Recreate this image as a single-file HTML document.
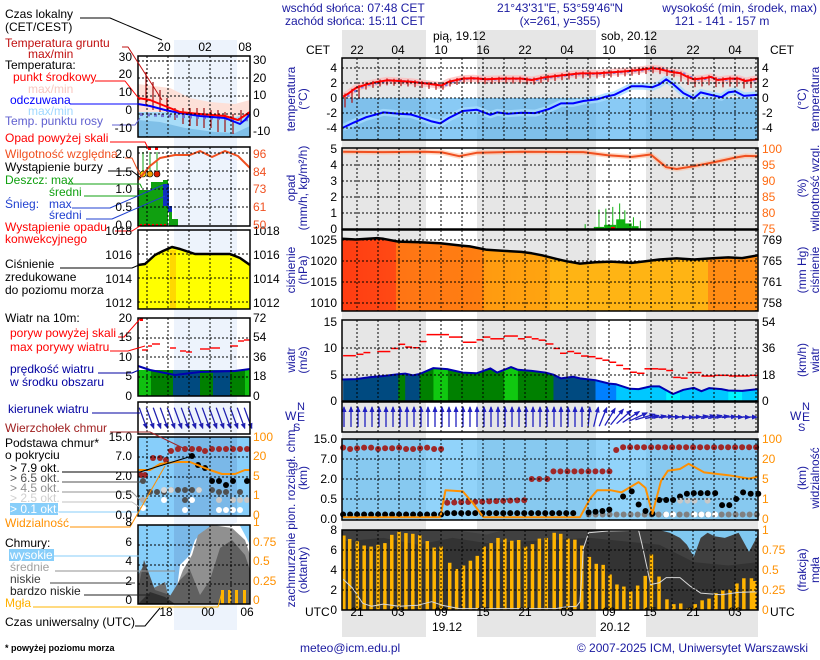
<!DOCTYPE html>
<html><head><meta charset="utf-8">
<style>
html,body{margin:0;padding:0;background:#fff;}
svg{display:block;font-family:"Liberation Sans",sans-serif;font-size:12px;}
</style></head><body>
<svg id="s" width="820" height="660" viewBox="0 0 820 660" xmlns="http://www.w3.org/2000/svg">
<defs>
<linearGradient id="pg" x1="342" x2="758" y1="0" y2="0" gradientUnits="userSpaceOnUse">
<stop offset="0" stop-color="#ff3c12"/><stop offset="0.13" stop-color="#ff4a14"/>
<stop offset="0.13" stop-color="#ff7414"/><stop offset="0.34" stop-color="#ff8012"/>
<stop offset="0.34" stop-color="#ff9a10"/><stop offset="0.5" stop-color="#ffa510"/>
<stop offset="0.5" stop-color="#ffb414"/><stop offset="0.88" stop-color="#ffb414"/>
<stop offset="0.88" stop-color="#ff8c14"/><stop offset="1" stop-color="#ff8c14"/>
</linearGradient>
</defs>
<rect x="342" y="30" width="84" height="607" fill="#e6e6e6"/>
<rect x="477" y="30" width="119" height="607" fill="#e6e6e6"/>
<rect x="646" y="30" width="112" height="607" fill="#e6e6e6"/>
<rect x="174" y="40" width="63" height="590" fill="#edf3fc"/>
<g id="g"></g>

<g fill="#1a1aa0">
<text x="282" y="12">wschód słońca: 07:48 CET</text>
<text x="285" y="25">zachód słońca: 15:11 CET</text>
<text x="560" y="12" text-anchor="middle">21°43'31"E, 53°59'46"N</text>
<text x="560" y="25" text-anchor="middle">(x=261,  y=355)</text>
<text x="817" y="12" text-anchor="end">wysokość (min, środek, max)</text>
<text x="722" y="25" text-anchor="middle">121 - 141 - 157 m</text>
<text x="300" y="652">meteo@icm.edu.pl</text>
<text x="808" y="652" text-anchor="end">© 2007-2025 ICM, Uniwersytet Warszawski</text>
</g>
<g fill="#000">
<text x="433" y="40">pią, 19.12</text>
<text x="601" y="40">sob, 20.12</text>
<text x="306" y="54">CET</text><text x="770" y="54">CET</text>
<text x="357" y="54" text-anchor="middle">22</text><text x="398" y="54" text-anchor="middle">04</text>
<text x="441" y="54" text-anchor="middle">10</text><text x="483" y="54" text-anchor="middle">16</text>
<text x="525" y="54" text-anchor="middle">22</text><text x="567" y="54" text-anchor="middle">04</text>
<text x="609" y="54" text-anchor="middle">10</text><text x="650" y="54" text-anchor="middle">16</text>
<text x="693" y="54" text-anchor="middle">22</text><text x="735" y="54" text-anchor="middle">04</text>
<text x="305" y="616">UTC</text><text x="770" y="616">UTC</text>
<text x="357" y="616" text-anchor="middle">21</text><text x="398" y="616" text-anchor="middle">03</text>
<text x="441" y="616" text-anchor="middle">09</text><text x="483" y="616" text-anchor="middle">15</text>
<text x="525" y="616" text-anchor="middle">21</text><text x="567" y="616" text-anchor="middle">03</text>
<text x="609" y="616" text-anchor="middle">09</text><text x="650" y="616" text-anchor="middle">15</text>
<text x="693" y="616" text-anchor="middle">21</text><text x="735" y="616" text-anchor="middle">03</text>
<text x="447" y="631" text-anchor="middle">19.12</text>
<text x="615" y="631" text-anchor="middle">20.12</text>
</g>
<g text-anchor="end" fill="#000">
<text x="337" y="72">4</text><text x="337" y="87">2</text><text x="337" y="102">0</text><text x="337" y="117">-2</text><text x="337" y="132">-4</text>
<text x="337" y="153">5</text><text x="337" y="169">4</text><text x="337" y="185">3</text><text x="337" y="201">2</text><text x="337" y="217">1</text><text x="337" y="233">0</text>
<text x="337" y="244">1025</text><text x="337" y="265">1020</text><text x="337" y="286">1015</text><text x="337" y="307">1010</text>
<text x="337" y="326">15</text><text x="337" y="352">10</text><text x="337" y="379">5</text><text x="337" y="405">0</text>
<text x="337" y="443">15.0</text><text x="337" y="463">7.0</text><text x="337" y="483">2.0</text><text x="337" y="503">0.5</text><text x="337" y="523">0.0</text>
<text x="337" y="534">8</text><text x="337" y="554">6</text><text x="337" y="574">4</text><text x="337" y="594">2</text><text x="337" y="614">0</text>
</g>
<g fill="#000">
<text x="762" y="72">4</text><text x="762" y="87">2</text><text x="762" y="102">0</text><text x="762" y="117">-2</text><text x="762" y="132">-4</text>
<text x="762" y="244">769</text><text x="762" y="265">765</text><text x="762" y="286">761</text><text x="762" y="307">758</text>
<text x="762" y="326">54</text><text x="762" y="352">36</text><text x="762" y="379">18</text><text x="762" y="405">0</text>
</g>
<g fill="#ff6a10">
<text x="762" y="153">100</text><text x="762" y="169">95</text><text x="762" y="185">90</text><text x="762" y="201">85</text><text x="762" y="217">80</text><text x="762" y="233">75</text>
</g>
<g fill="#ff9000">
<text x="762" y="443">100</text><text x="762" y="463">20</text><text x="762" y="483">5</text><text x="762" y="503">1</text><text x="762" y="523">0</text>
<text x="762" y="534">1</text><text x="762" y="554">0.75</text><text x="762" y="574">0.5</text><text x="762" y="594">0.25</text><text x="762" y="614">0</text>
</g>
<g fill="#1a1aa0" text-anchor="middle">
<text transform="translate(295,99) rotate(-90)">temperatura</text>
<text transform="translate(307,99) rotate(-90)">(°C)</text>
<text transform="translate(295,188) rotate(-90)">opad</text>
<text transform="translate(307,188) rotate(-90)">(mm/h, kg/m²/h)</text>
<text transform="translate(295,270) rotate(-90)">ciśnienie</text>
<text transform="translate(307,270) rotate(-90)">(hPa)</text>
<text transform="translate(295,360) rotate(-90)">wiatr</text>
<text transform="translate(307,360) rotate(-90)">(m/s)</text>
<text transform="translate(295,478) rotate(-90)">pion. rozciągł. chm.</text>
<text transform="translate(307,478) rotate(-90)">(km)</text>
<text transform="translate(295,570) rotate(-90)">zachmurzenie</text>
<text transform="translate(307,570) rotate(-90)">(oktanty)</text>
<text transform="translate(806,99) rotate(-90)">(°C)</text>
<text transform="translate(819,99) rotate(-90)">temperatura</text>
<text transform="translate(806,188) rotate(-90)">(%)</text>
<text transform="translate(819,188) rotate(-90)">wilgotność wzgl.</text>
<text transform="translate(806,270) rotate(-90)">(mm Hg)</text>
<text transform="translate(819,270) rotate(-90)">ciśnienie</text>
<text transform="translate(806,360) rotate(-90)">(km/h)</text>
<text transform="translate(819,360) rotate(-90)">wiatr</text>
<text transform="translate(806,478) rotate(-90)">(km)</text>
<text transform="translate(819,478) rotate(-90)">widzialność</text>
<text transform="translate(806,570) rotate(-90)">(frakcja)</text>
<text transform="translate(819,570) rotate(-90)">mgła</text>
</g>
<g fill="#1a1aa0">
<text x="285" y="420">W</text><text x="297" y="410" font-size="11">N</text><text x="297" y="421">E</text><text x="293" y="431" font-size="11">S</text>
<text x="790" y="420">W</text><text x="802" y="410" font-size="11">N</text><text x="802" y="421">E</text><text x="798" y="431" font-size="11">S</text>
</g>

<g>
<text x="5" y="18">Czas lokalny</text><text x="5" y="31">(CET/CEST)</text>
<text x="5" y="47" fill="#c01010">Temperatura gruntu</text><text x="28" y="58" fill="#c01010">max/min</text>
<text x="5" y="69">Temperatura:</text>
<text x="13" y="81" fill="#ff0000">punkt środkowy</text>
<text x="28" y="93" fill="#f8c8c0">max/min</text>
<text x="10" y="104" fill="#0000ff">odczuwana</text>
<text x="28" y="115" fill="#a0d8ff">max/min</text>
<text x="5" y="125" fill="#6060d0">Temp. punktu rosy</text>
<text x="5" y="142" fill="#ff0000">Opad powyżej skali</text>
<text x="5" y="158" fill="#f05020">Wilgotność względna</text>
<text x="5" y="171">Wystąpienie burzy</text>
<text x="5" y="184" fill="#10a010">Deszcz: max</text>
<text x="49" y="196" fill="#10a010">średni</text>
<text x="5" y="208" fill="#2040d0">Śnieg:</text><text x="49" y="208" fill="#2040d0">max</text>
<text x="49" y="219" fill="#2040d0">średni</text>
<text x="5" y="231" fill="#ff0000">Wystąpienie opadu</text>
<text x="5" y="243" fill="#ff0000">konwekcyjnego</text>
<text x="5" y="268">Ciśnienie</text><text x="5" y="281">zredukowane</text><text x="5" y="294">do poziomu morza</text>
<text x="5" y="322">Wiatr na 10m:</text>
<text x="10" y="337" fill="#ff0000">poryw powyżej skali</text>
<text x="10" y="351" fill="#ff0000">max porywy wiatru</text>
<text x="10" y="373" fill="#0000a0">prędkość wiatru</text>
<text x="10" y="386" fill="#0000a0">w środku obszaru</text>
<text x="8" y="413" fill="#0000a0">kierunek wiatru</text>
<text x="5" y="432" fill="#a02020">Wierzchołek chmur</text>
<text x="5" y="447">Podstawa chmur*</text><text x="5" y="459">o pokryciu</text>
<text x="10" y="472">&gt; 7.9 okt.</text>
<text x="10" y="482" fill="#505050">&gt; 6.5 okt.</text>
<text x="10" y="492" fill="#909090">&gt; 4.5 okt.</text>
<text x="10" y="502" fill="#d0d0d0">&gt; 2.5 okt.</text>
<rect x="10" y="503" width="48" height="12" fill="#87cefa"/>
<text x="10" y="513" fill="#fff">&gt; 0.1 okt.</text>
<text x="5" y="527" fill="#ff9000">Widzialność</text>
<text x="5" y="547">Chmury:</text>
<rect x="9" y="549" width="45" height="12" fill="#87cefa"/>
<text x="10" y="559" fill="#fff">wysokie</text>
<text x="10" y="571" fill="#a0a0a0">średnie</text>
<text x="10" y="583" fill="#404040">niskie</text>
<text x="10" y="595" fill="#202020">bardzo niskie</text>
<text x="5" y="607" fill="#ffb000">Mgła</text>
<text x="5" y="626">Czas uniwersalny (UTC)</text>
<text x="5" y="651" font-size="9" font-weight="bold">* powyżej poziomu morza</text>
</g>
<g text-anchor="end">
<text x="132" y="61">30</text><text x="132" y="78">20</text><text x="132" y="96">10</text><text x="132" y="114">0</text><text x="132" y="132">-10</text>
<text x="132" y="158">2.0</text><text x="132" y="176">1.5</text><text x="132" y="193">1.0</text><text x="132" y="211">0.5</text><text x="132" y="229">0.0</text>
<text x="132" y="235">1018</text><text x="132" y="259">1016</text><text x="132" y="283">1014</text><text x="132" y="307">1012</text>
<text x="132" y="322">20</text><text x="132" y="341">15</text><text x="132" y="361">10</text><text x="132" y="380">5</text><text x="132" y="400">0</text>
<text x="132" y="441">15.0</text><text x="132" y="460">7.0</text><text x="132" y="480">2.0</text><text x="132" y="499">0.5</text><text x="132" y="519">0.0</text>
<text x="132" y="526">8</text><text x="132" y="546">6</text><text x="132" y="565">4</text><text x="132" y="585">2</text><text x="132" y="604">0</text>
</g>
<g>
<text x="253" y="64">30</text><text x="253" y="82">20</text><text x="253" y="99">10</text><text x="253" y="117">0</text><text x="253" y="135">-10</text>
<text x="253" y="235">1018</text><text x="253" y="259">1016</text><text x="253" y="283">1014</text><text x="253" y="307">1012</text>
<text x="253" y="322">72</text><text x="253" y="341">54</text><text x="253" y="361">36</text><text x="253" y="380">18</text><text x="253" y="400">0</text>
</g>
<g fill="#f05020"><text x="253" y="158">96</text><text x="253" y="176">84</text><text x="253" y="193">73</text><text x="253" y="211">61</text><text x="253" y="229">50</text></g>
<g fill="#ff9000">
<text x="253" y="441">100</text><text x="253" y="460">20</text><text x="253" y="480">5</text><text x="253" y="499">1</text><text x="253" y="519">0</text>
<text x="253" y="526">1</text><text x="253" y="546">0.75</text><text x="253" y="565">0.5</text><text x="253" y="585">0.25</text><text x="253" y="604">0</text>
</g>
<g text-anchor="middle">
<text x="164" y="51">20</text><text x="205" y="51">02</text><text x="245" y="51">08</text>
<text x="166" y="616">18</text><text x="208" y="616">00</text><text x="247" y="616">06</text>
</g>
</svg>
<script>
var NS="http://www.w3.org/2000/svg",G=document.getElementById("g");
function el(t,a){var e=document.createElementNS(NS,t);for(var k in a)e.setAttribute(k,a[k]);G.appendChild(e);return e;}
function ps(p){return p.map(function(q){return q[0].toFixed(1)+","+q[1].toFixed(1)}).join(" ");}
function Z(ox,oy){return function(a){return a.map(function(q){return [ox+q[0]/2.9,oy+q[1]/2.9]})}}
var z2=Z(280,0),z4=Z(280,225),z3=Z(280,400);
function line(p,c,w,extra){var a={points:ps(p),fill:"none",stroke:c,"stroke-width":w,"stroke-linejoin":"round"};for(var k in extra)a[k]=extra[k];return el("polyline",a);}
function area(p,bottom,fill){var q=p.slice();q.push([p[p.length-1][0],bottom]);q.unshift([p[0][0],bottom]);return el("polygon",{points:ps(q),fill:fill});}
function rect(x,y,w,h,f,ex){var a={x:x,y:y,width:w,height:h,fill:f};for(var k in ex)a[k]=ex[k];return el("rect",a);}
function grid(x0,x1,y0,y1,xs,ys){xs.forEach(function(x){if(x>x0+1&&x<x1-1)el("line",{x1:x,x2:x,y1:y0,y2:y1,stroke:"#000","stroke-dasharray":"2,2","stroke-width":1});});
 ys.forEach(function(y){el("line",{x1:x0,x2:x1,y1:y,y2:y,stroke:"#000","stroke-dasharray":"2,2","stroke-width":1});});}
function box(x0,x1,y0,y1){rect(x0,y0,x1-x0,y1-y0,"none",{stroke:"#000","stroke-width":1.5});}
var MX0=342,MX1=758,GX=[];for(var k=0;k<20;k++)GX.push(357+21*k);
var LX0=138,LX1=250,LGX=[147,168,189,210,231];

rect(MX0,98,MX1-MX0,42,"#3aa6ee",{"fill-opacity":0.6});
var red=z2([[183,280],[200,270],[220,255],[250,245],[280,238],[310,233],[345,235],[380,237],[405,240],[430,243],[468,248],[490,237],[530,228],[560,227],[600,230],[640,228],[700,228],[730,232],[770,224],[820,218],[870,213],[920,213],[960,210],[1000,207],[1040,203],[1080,198],[1100,200],[1130,208],[1160,212],[1180,222],[1200,230],[1230,227],[1250,223],[1270,232],[1300,228],[1330,228],[1350,235],[1387,228]]);
var blue=z2([[183,370],[215,355],[250,340],[300,326],[345,330],[380,332],[405,340],[440,352],[465,358],[490,342],[530,322],[570,318],[610,333],[630,326],[660,330],[700,327],[740,328],[780,316],[815,300],[850,300],[880,293],[920,288],[945,280],[970,275],[990,265],[1020,250],[1050,250],[1080,253],[1100,245],[1120,230],[1140,244],[1170,270],[1200,285],[1220,268],[1245,274],[1280,282],[1300,268],[1320,265],[1345,278],[1387,275]]);
line(red,"#ffb8b8",7,{"stroke-opacity":0.7});
line(blue,"#a8dcff",7,{"stroke-opacity":0.8});
function yAt(p,x){for(var i=1;i<p.length;i++){if(p[i][0]>=x){var a=p[i-1],b=p[i];return a[1]+(b[1]-a[1])*(x-a[0])/(b[0]-a[0]||1);}}return p[p.length-1][1];}
for(var x=345;x<757;x+=7){var y=yAt(red,x);var L=(x<360?12:(x>680?8:5));el("line",{x1:x,x2:x,y1:y-2,y2:y+L,stroke:"#b01010","stroke-width":1.2});
 rect(x+2,y-1,2.5,2.5,"#8080e0");}
line(red,"#ff0000",2);
line(blue,"#0000ff",2);
grid(MX0,MX1,58,140,GX,[68,83,98,113,128]);box(MX0,MX1,58,140);

[[885,650],[925,608],[945,605],[965,600],[985,590],[1000,610],[1025,630],[1045,640]].forEach(function(q){var p=z2([q,[q[0],665]]);el("line",{x1:p[0][0],x2:p[0][0],y1:p[0][1],y2:229,stroke:"#10b010","stroke-width":1});});
[[910,940,658],[940,975,652],[975,1000,636],[1000,1020,648],[1020,1040,656]].forEach(function(r){var a=z2([[r[0],r[2]],[r[1],665]]);rect(a[0][0],a[0][1],a[1][0]-a[0][0],229-a[0][1],"#10b010");});
rect(611,227,4,2,"#ff0000");
var rh=z2([[183,440],[300,441],[420,440],[470,442],[520,453],[570,443],[700,440],[880,441],[950,450],[1020,455],[1075,448],[1120,485],[1150,490],[1200,482],[1260,470],[1320,457],[1350,452],[1387,453]]);
line(rh,"#ffc0a0",5,{"stroke-opacity":0.6});line(rh,"#f05020",2);
grid(MX0,MX1,148,229,GX,[165,181,197,213]);box(MX0,MX1,148,229);

var pr=z4([[183,40],[220,42],[282,38],[300,40],[343,48],[405,50],[465,53],[530,60],[550,62],[600,72],[650,75],[700,78],[730,82],[760,88],[800,98],[830,105],[870,112],[915,108],[960,106],[1020,110],[1060,105],[1100,100],[1150,97],[1200,100],[1260,96],[1300,94],[1340,96],[1387,88]]);
pr[0][0]=MX0;pr[pr.length-1][0]=MX1;
area(pr,311,"url(#pg)");line(pr,"#000",2.5);
grid(MX0,MX1,230,311,GX,[240,261,282,303]);box(MX0,MX1,230,311);

var gu=[[183,220,379],[222,242,375],[242,262,370],[282,320,367],[322,342,358],[343,363,346],[363,383,354],[385,405,356],[405,425,338],[425,490,318],[490,528,325],[530,570,340],[570,590,333],[590,610,325],[610,650,330],[650,690,322],[690,710,330],[710,730,325],[730,750,330],[750,770,334],[770,793,345],[793,812,358],[812,830,372],[833,853,367],[853,873,372],[873,895,380],[895,915,382],[915,935,387],[935,955,392],[955,975,398],[975,995,407],[995,1015,417],[1015,1035,427],[1035,1057,430],[1057,1097,417],[1097,1120,418],[1120,1140,422],[1140,1162,442],[1162,1182,444],[1182,1222,428],[1222,1262,438],[1262,1302,436],[1302,1362,438],[1362,1387,436]];
gu.forEach(function(g){var p=z4([[g[0],g[2]],[g[1],g[2]]]);el("line",{x1:p[0][0],x2:p[1][0],y1:p[0][1],y2:p[1][1],stroke:"#ff0000","stroke-width":1.5});});
var ws=z4([[183,448],[220,447],[262,441],[300,438],[343,433],[363,431],[385,436],[405,432],[445,415],[485,418],[530,428],[570,430],[610,416],[630,428],[670,412],[690,420],[730,423],[770,428],[793,434],[815,445],[850,440],[870,445],[915,450],[955,460],[975,462],[1015,475],[1040,476],[1075,468],[1100,468],[1140,490],[1170,478],[1200,472],[1222,482],[1245,473],[1280,476],[1300,480],[1340,481],[1387,476]]);
ws[0][0]=MX0;ws[ws.length-1][0]=MX1;
var cp=document.createElementNS(NS,"clipPath");cp.setAttribute("id","wc");document.querySelector("defs").appendChild(cp);
var q=ws.slice();q.push([MX1,401]);q.push([MX0,401]);var pg=document.createElementNS(NS,"polygon");pg.setAttribute("points",ps(q));cp.appendChild(pg);
var wg=el("g",{"clip-path":"url(#wc)"});
[[183,343,"#004a80"],[343,363,"#008000"],[363,405,"#004a80"],[405,445,"#008000"],[445,487,"#10c810"],[487,650,"#008000"],[650,690,"#10c810"],[690,793,"#008000"],[793,915,"#004a80"],[915,975,"#0080ff"],[975,1120,"#00c8ff"],[1120,1160,"#00f4ff"],[1160,1300,"#00c8ff"],[1300,1340,"#00f4ff"],[1340,1390,"#00c8ff"]].forEach(function(s){var a=280+s[0]/2.9,b=280+s[1]/2.9;var r=document.createElementNS(NS,"rect");r.setAttribute("x",a);r.setAttribute("y",320);r.setAttribute("width",b-a+0.5);r.setAttribute("height",82);r.setAttribute("fill",s[2]);wg.appendChild(r);});
line(ws,"#0000b0",2);
grid(MX0,MX1,320,401,GX,[348,375]);box(MX0,MX1,320,401);

function arrow(cx,cy,ang,len,col){var r=ang*Math.PI/180;var dx=Math.sin(r),dy=-Math.cos(r);
 var tx=cx+dx*len/2,ty=cy+dy*len/2,bx=cx-dx*len/2,by=cy-dy*len/2;
 el("line",{x1:bx,y1:by,x2:tx,y2:ty,stroke:col,"stroke-width":1.3});
 var px=-dy,py=dx;el("polygon",{points:ps([[tx+dx*1,ty+dy*1],[tx-dx*5+px*2.5,ty-dy*5+py*2.5],[tx-dx*5-px*2.5,ty-dy*5-py*2.5]]),fill:col});}
for(var x=344;x<757;x+=7){var a;if(x<585)a=0;else if(x<650)a=(x-585)/65*80;else a=85+8*Math.sin(x);
 var L=x<650?20:14;arrow(x,417,a,L,"#2020c0");}
grid(MX0,MX1,402,432,GX,[]);box(MX0,MX1,402,432);

rect(MX0,439,MX1-MX0,81,"#48b6f6",{"fill-opacity":0.6});
function dot(x,y,c){el("circle",{cx:x,cy:y,r:3,fill:c});}
function dz(X,Y,c){var p=z3([[X,Y]])[0];dot(p[0],p[1],c);}
for(var X=183;X<=470;X+=20.3){dz(X,138+((X|0)%3)*2,"#a02828");dz(X,332,"#000");}
for(var X=485;X<=715;X+=20.3){dz(X,298-(X-485)/30,"#a02828");}
[730,752,775].forEach(function(X){dz(X,229,"#a02828");});
for(var X=793;X<=960;X+=20.3)dz(X,207,"#a02828");
dz(975,145,"#a02828");for(var X=995;X<=1387;X+=20.3)dz(X,137,"#a02828");
for(var X=485;X<=870;X+=20.3)dz(X,328,"#000");
for(var X=895;X<=1387;X+=20.3)dz(X,332,"#808080");
[[895,326],[915,324],[935,322],[955,318],[995,280],[1020,265],[1040,303],[1060,322],[1080,330],[1100,290],[1120,290],[1140,290],[1160,280],[1180,272],[1200,270],[1220,270],[1240,270],[1262,270],[1282,305],[1303,305],[1323,287],[1343,268],[1365,272],[1387,272]].forEach(function(d){dz(d[0],d[1],"#000");});
[1160,1182,1202,1240].forEach(function(X){dz(X,292,"#c8c8c8");});
[1120,1140,1202,1222,1242,1262].forEach(function(X){dz(X,332,"#fff");});
var vis=z3([[183,340],[465,340],[480,262],[530,265],[560,300],[590,340],[870,340],[900,285],[920,262],[960,262],[990,268],[1040,238],[1060,255],[1080,330],[1105,235],[1125,205],[1160,200],[1185,185],[1230,210],[1300,218],[1360,228],[1387,222]]);
line(vis,"#ff9000",2);
grid(MX0,MX1,439,520,GX,[459,479,499]);box(MX0,MX1,439,520);

rect(MX0,530,MX1-MX0,80,"#333");
el("polygon",{points:ps(z3([[183,377],[1387,377],[1387,470],[1300,480],[1200,470],[1100,420],[1000,410],[900,400],[800,405],[700,410],[600,415],[500,400],[400,420],[300,400],[183,410]])),fill:"#404040"});
el("polygon",{points:ps(z3([[1100,377],[1387,377],[1387,390],[1360,440],[1330,385],[1290,400],[1260,395],[1240,385],[1220,400],[1200,455],[1180,420],[1160,400],[1130,385]])),fill:"#80c8f0"});
el("polygon",{points:ps(z3([[500,377],[650,377],[600,390],[560,385]])),fill:"#4a4a4a"});
var fb=[[183,393],[200,403],[222,410],[242,422],[262,425],[282,420],[302,415],[322,391],[343,382],[363,386],[383,388],[403,392],[425,409],[445,428],[465,425],[490,472],[510,490],[530,480],[550,466],[570,452],[590,425],[610,415],[630,400],[650,402],[670,408],[690,406],[710,425],[730,418],[750,402],[770,400],[793,385],[812,388],[833,402],[853,405],[873,422],[895,455],[915,475],[935,478],[955,506],[975,535],[995,541],[1015,555],[1035,538],[1057,510],[1075,448],[1097,512],[1120,578],[1140,592],[1160,590],[1182,604],[1202,592],[1222,581],[1242,576],[1262,560],[1282,552],[1303,550],[1323,532],[1343,517],[1365,517],[1385,525]];
fb.forEach(function(b){var p=z3([[b[0],b[1]]])[0];var x=Math.min(Math.max(p[0],MX0+1),MX1-4);rect(x-1,p[1],3.5,610-p[1],"#ffb400");});
var wl=z3([[183,520],[210,545],[240,590],[265,598],[300,592],[345,598],[400,595],[440,585],[470,595],[520,605],[800,605],[830,600],[860,598],[870,585],[880,430],[895,385],[950,380],[1040,378],[1050,420],[1075,535],[1100,530],[1120,515],[1160,515],[1190,540],[1220,560],[1280,565],[1330,558],[1387,556]]);
line(wl,"#d8d8d8",1);
grid(MX0,MX1,530,610,GX,[550,570,590]);box(MX0,MX1,530,610);

el("polygon",{points:ps([[LX0,84],[170,88],[190,98],[210,102],[235,104],[250,100],[250,137],[LX0,137]]),fill:"#fde0d8"});
el("polygon",{points:ps([[LX0,112],[170,112],[200,116],[230,118],[250,114],[250,137],[LX0,137]]),fill:"#a8dcf8"});
el("polygon",{points:ps([[LX0,120],[160,122],[185,128],[215,132],[235,133],[250,126],[250,137],[LX0,137]]),fill:"#80c0e8"});
[[146,72,106],[153,82,110],[160,90,112],[167,98,112],[175,108,120],[183,108,124],[190,108,126],[197,108,126],[204,108,128],[211,110,128],[218,110,132],[225,112,132],[233,114,134],[241,110,122],[248,112,118]].forEach(function(t){el("line",{x1:t[0],x2:t[0],y1:t[1],y2:t[2],stroke:"#a01010","stroke-width":1.2});});
for(var x=140;x<250;x+=7)rect(x,113+((x-140)/20),3,3,"#7070d0");
line([[LX0,104],[150,106],[165,110],[180,113],[200,116],[225,118],[240,124],[245,120],[250,114]],"#0000ff",2);
line([[LX0,98],[150,100],[165,106],[180,112],[200,114],[225,116],[238,120],[244,116],[250,112]],"#ff0000",2);
grid(LX0,LX1,56,137,LGX,[61,78,96,114]);box(LX0,LX1,56,137);
rect(LX0,190,13,36,"#10a010");rect(151,182,12,44,"#10a010");rect(163,180,5,46,"#10a010");
rect(163,184,6,22,"#1030c0");rect(169,211,3,15,"#10a010");rect(168,206,4,6,"#1030c0");rect(172,219,6,7,"#10a010");
[[143,174,"#ffd000"],[150,174,"#f0a000"],[157,174,"#e02000"]].forEach(function(c){el("line",{x1:c[0],x2:c[0],y1:152,y2:175,stroke:"#10a010","stroke-width":1});el("circle",{cx:c[0],cy:174,r:3,fill:c[2],stroke:"#000","stroke-width":0.6});});
rect(148,147,3,3,"#ff0000");rect(155,147,3,3,"#ff0000");
line([[LX0,180],[150,166],[160,158],[175,155],[190,155],[200,151],[212,157],[225,151],[238,156],[250,168]],"#f05020",2);
for(var x=140;x<165;x+=4)rect(x,224,2,2,"#ff0000");
grid(LX0,LX1,147,226,LGX,[153,171,189,207]);box(LX0,LX1,147,226);
var lp=[[LX0,265],[145,264],[155,255],[163,251],[172,247],[180,249],[195,254],[230,254],[240,258],[250,265]];
area(lp,309,"#ffff00");rect(170,250,6,59,"#ffd800");line(lp,"#000",2.5);
grid(LX0,LX1,230,309,LGX,[254,278,302]);box(LX0,LX1,230,309);
[[LX0,151,"#10c010"],[151,173,"#008000"],[173,200,"#004a80"],[200,213,"#008000"],[213,230,"#004a80"],[230,245,"#008000"],[245,250,"#10c010"]].forEach(function(s){rect(s[0],370,s[1]-s[0],26,s[2]);});
line([[LX0,366],[150,370],[165,373],[175,375],[200,372],[235,371],[250,369]],"#0000b0",2);
[[142,148,350],[148,152,346],[152,160,344],[170,176,348],[180,186,351],[186,192,352],[200,210,349],[210,220,348],[230,238,346],[238,244,341],[244,250,340]].forEach(function(g){el("line",{x1:g[0],x2:g[1],y1:g[2],y2:g[2],stroke:"#ff0000","stroke-width":1.4});});
rect(140,318,3,3,"#ff0000");
grid(LX0,LX1,318,396,LGX,[338,357,377]);box(LX0,LX1,318,396);
for(var x=141;x<252;x+=7)arrow(x+2,418,160,22,"#2020b0");
grid(LX0,LX1,402,434,LGX,[]);box(LX0,LX1,402,434);
rect(LX0,437,112,79,"#87cefa");rect(174,437,63,79,"#7ab8e8");
[[141,475,"#a02828"],[145,475,"#a02828"],[153,458,"#a02828"],[160,458,"#a02828"],[166,460,"#a02828"],[171,451,"#a02828"],[178,449,"#a02828"],[185,449,"#a02828"],[192,449,"#a02828"],[199,449,"#a02828"],[205,451,"#a02828"],[212,449,"#a02828"],[219,449,"#a02828"],[226,449,"#a02828"],[233,449,"#a02828"],[240,449,"#a02828"],[247,449,"#a02828"],
[192,456,"#000"],[198,465,"#000"],[205,468,"#000"],[212,481,"#000"],[219,481,"#000"],[226,485,"#000"],[233,481,"#000"],[247,481,"#000"],
[143,481,"#505050"],[150,492,"#505050"],[157,492,"#505050"],[164,492,"#505050"],[171,490,"#505050"],[178,490,"#505050"],[185,490,"#505050"],[192,490,"#505050"],[199,490,"#505050"],[212,490,"#505050"],[219,492,"#505050"],[226,492,"#505050"],[240,492,"#505050"],
[143,500,"#b0b0b0"],[164,490,"#d8d8d8"],[171,490,"#d8d8d8"],[185,500,"#505050"],[199,490,"#d8d8d8"],[219,500,"#c8c8c8"],[233,500,"#c8c8c8"],[240,500,"#c8c8c8"],[247,500,"#c8c8c8"],
[143,508,"#fff"],[164,500,"#fff"],[185,510,"#fff"],[192,500,"#fff"],[219,510,"#fff"],[226,510,"#fff"],[233,510,"#fff"],[240,510,"#fff"]].forEach(function(d){dot(d[0],d[1],d[2]);});
line([[LX0,470],[150,470],[160,464],[175,462],[190,462],[200,466],[210,470],[222,474],[235,474],[245,470],[250,470]],"#ff9000",2);
grid(LX0,LX1,437,516,LGX,[457,477,496]);box(LX0,LX1,437,516);
rect(LX0,525,112,79,"#87cefa");rect(174,525,63,79,"#7ab8e8");
el("polygon",{points:ps([[175,604],[180,565],[190,555],[195,540],[205,530],[215,526],[230,525],[238,522],[245,535],[250,545],[250,604]]),fill:"#fff"});
el("polygon",{points:ps([[170,604],[183,570],[192,555],[198,535],[205,530],[212,525],[232,528],[245,540],[250,555],[250,604]]),fill:"#909090"});
el("polygon",{points:ps([[LX0,604],[LX0,575],[144,565],[150,590],[165,582],[170,604]]),fill:"#707070"});
el("polygon",{points:ps([[LX0,590],[144,560],[155,590],[170,595],[175,604],[LX0,604]]),fill:"#505050"});
el("polygon",{points:ps([[165,604],[180,580],[190,570],[200,595],[210,580],[220,548],[232,540],[245,555],[250,570],[250,604]]),fill:"#606060"});
el("polygon",{points:ps([[LX0,604],[150,592],[165,597],[175,604]]),fill:"#303030"});
[221,228,235,243].forEach(function(x){rect(x,590,3,14,"#ffb400");});
grid(LX0,LX1,525,604,LGX,[545,565,584]);box(LX0,LX1,525,604);

var C=[[[80,18],[110,18],[162,40],"#000"],[[122,47],[128,47],[162,100],"#c01010"],[[95,81],[125,81],[140,100],"#ff0000"],[[70,104],[135,104],[139,104],"#0000ff"],[[112,125],[135,125],[140,118],"#6060d0"],[[110,142],[145,142],[148,148],"#ff0000"],[[125,158],[132,158],[140,175],"#f05020"],[[108,171],[132,171],[141,178],"#000"],[[68,184],[140,184],[142,188],"#10a010"],[[84,196],[138,196],[143,196],"#10a010"],[[72,208],[110,208],[163,185],"#2040d0"],[[86,219],[112,219],[165,196],"#2040d0"],[[115,231],[132,231],[140,226],"#ff0000"],[[60,268],[132,268],[139,265],"#000"],[[118,337],[124,337],[140,319],"#ff0000"],[[110,351],[128,351],[145,346],"#ff0000"],[[98,373],[132,373],[139,370],"#0000a0"],[[92,413],[140,413],[140,413],"#0000a0"],[[110,432],[150,432],[185,449],"#a02828"],[[62,472],[140,472],[192,456],"#000"],[[62,482],[140,482],[141,481],"#505050"],[[62,492],[132,492],[140,500],"#909090"],[[62,502],[132,502],[141,508],"#c0c0c0"],[[58,512],[138,512],[138,512],"#87cefa"],[[70,527],[130,527],[165,466],"#ff9000"],[[54,556],[160,556],[160,556],"#87cefa"],[[55,571],[175,571],[175,571],"#909090"],[[50,583],[135,583],[135,583],"#404040"],[[84,595],[140,595],[150,595],"#202020"],[[33,607],[218,607],[222,592],"#ffb400"],[[135,626],[145,626],[160,608],"#000"]];
C.forEach(function(c){line([c[0],c[1],c[2]],c[3],1);});
</script>
</body></html>
